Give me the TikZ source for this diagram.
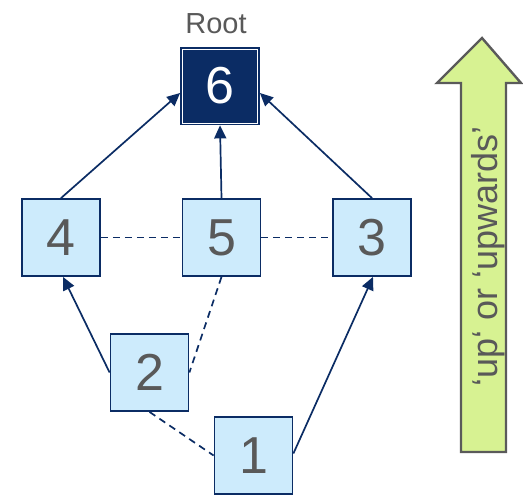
\documentclass[tikz,border=0pt]{standalone}
\usepackage{fontspec}
\setmainfont{Liberation Sans}
\usetikzlibrary{arrows.meta}
\definecolor{navy}{HTML}{0B2C64}
\definecolor{boxblue}{HTML}{CDEBFC}
\definecolor{txtgray}{HTML}{595959}
\definecolor{upgreen}{HTML}{D7F292}
\definecolor{arrgray}{HTML}{5A5A5A}
\tikzset{
  sqbox/.style={draw=navy, line width=1.8pt, fill=boxblue, minimum width=78pt, minimum height=77pt, inner sep=0pt, text=txtgray, font=\fontsize{52}{52}\selectfont},
  rootbox/.style={sqbox, fill=navy, text=white},
  up/.style={draw=navy, line width=1.7pt, -{Triangle[length=13pt,width=12pt]}},
  lat/.style={draw=navy, line width=1.7pt, dash pattern=on 7pt off 5pt},
}
\begin{document}
\begin{tikzpicture}[x=1pt,y=-1pt]
\useasboundingbox (0,0) rectangle (523,496);
% big arrow
\draw[arrgray, line width=2.4pt, fill=upgreen, line join=miter]
  (482,38) -- (521,83) -- (506,83) -- (506,452) -- (461,452) -- (461,83) -- (437,83) -- cycle;
\node[rotate=90, anchor=base, text=txtgray, font=\fontsize{36}{36}\selectfont, inner sep=0pt] (uptxt) at (497,256) {‘up‘ or ‘upwards’};
% nodes
\node[rootbox] (n6) at (220,86) {6};
\draw[white, line width=0.8pt] ([xshift=2.5pt,yshift=-2.5pt]n6.north west) rectangle ([xshift=-2.5pt,yshift=2.5pt]n6.south east);
\node[anchor=base, text=txtgray, font=\fontsize{29}{29}\selectfont, inner sep=0pt] (root) at (216,33) {Root};
\node[sqbox] (n4) at (61,237.5) {4};
\node[sqbox] (n5) at (221.5,237.5) {5};
\node[sqbox] (n3) at (372,237.5) {3};
\node[sqbox] (n2) at (149.5,372.5) {2};
\node[sqbox] (n1) at (253.5,455.5) {1};
% lateral dashed links
\draw[lat] (n4.east) -- (n5.west);
\draw[lat] (n5.east) -- (n3.west);
\draw[lat] (n5.south) -- (n2.east);
\draw[lat] (n2.south) -- (n1.west);
% upward arrows
\draw[up] (n4.north) -- ([yshift=-7pt]n6.west);
\draw[up] (n5.north) -- (n6.south);
\draw[up] (n3.north) -- ([yshift=-7pt]n6.east);
\draw[up] (n2.west) -- ([xshift=2pt]n4.south);
\draw[up] ([yshift=2pt]n1.east) -- ([xshift=1pt]n3.south);
\end{tikzpicture}
\end{document}
